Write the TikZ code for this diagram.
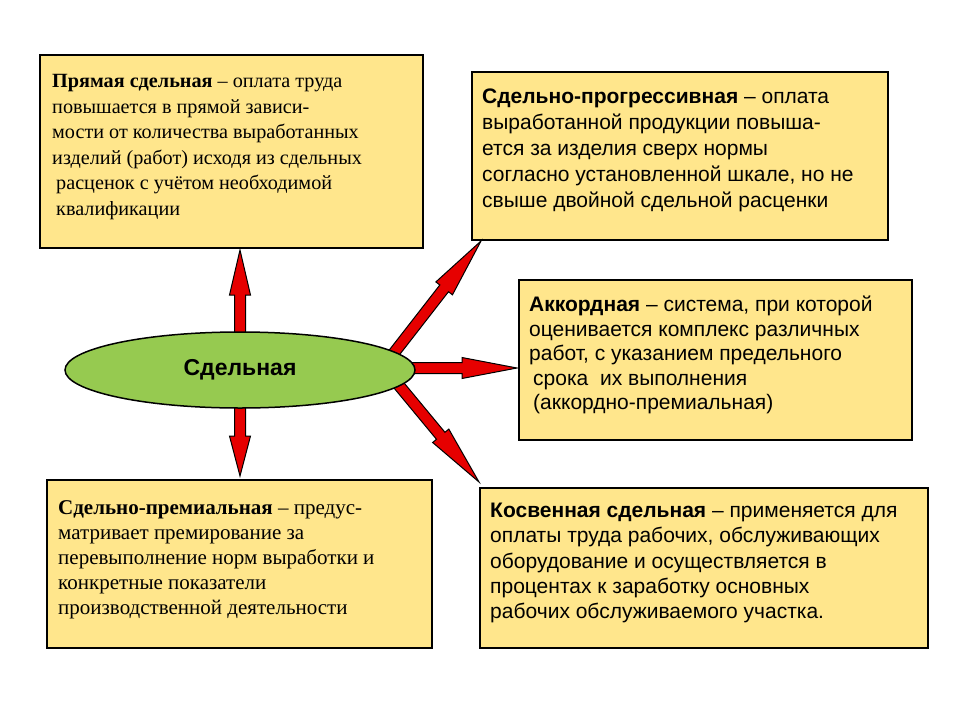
\documentclass[tikz,border=0pt]{standalone}
\usepackage{fontspec}
\setmainfont{Liberation Serif}
\setsansfont{Liberation Sans}
\usetikzlibrary{calc,shapes.geometric}
\definecolor{boxfill}{RGB}{255,230,140}
\definecolor{ellfill}{RGB}{150,202,80}
\definecolor{arr}{RGB}{230,0,0}
\tikzset{
  infobox/.style={draw=black, line width=1.5pt, fill=boxfill},
  boxtext/.style={anchor=north west, inner sep=0pt, align=left},
}
\newcommand{\blockarrow}[3]{%
  \path let \p1=($(#2)-(#1)$), \n1={atan2(\y1,\x1)}, \n2={veclen(\x1,\y1)} in
    [draw=black, line width=1pt, fill=arr, shift={(#1)}, rotate=\n1]
    (0pt,-5.5pt) -- ({\n2-#3},-5.5pt) -- ({\n2-#3},-10.5pt) -- (\n2,0pt)
    -- ({\n2-#3},10.5pt) -- ({\n2-#3},5.5pt) -- (0pt,5.5pt) -- cycle;}
\begin{document}
\begin{tikzpicture}[x=1pt,y=-1pt]
\useasboundingbox (0,0) rectangle (960,720);
\fill[white] (0,0) rectangle (960,720);
% boxes
\draw[infobox] (40,55) rectangle (423,248);
\draw[infobox] (472,72) rectangle (888,240);
\draw[infobox] (519,280) rectangle (912,440);
\draw[infobox] (47,480) rectangle (432,648);
\draw[infobox] (480,488) rectangle (928,648);
\node[boxtext, font=\rmfamily\fontsize{20.2}{25.6}\selectfont] (t1) at (52,74) {\textbf{Прямая сдельная} – оплата труда\\повышается в прямой зависи-\\мости от количества выработанных\\изделий (работ) исходя из сдельных\\\hspace{4pt}расценок с учётом необходимой\\\hspace{4pt}квалификации};
\node[boxtext, font=\sffamily\fontsize{21}{25.8}\selectfont] (t2) at (482,89) {\textbf{Сдельно-прогрессивная} – оплата\\выработанной продукции повыша-\\ется за изделия сверх нормы\\согласно установленной шкале, но не\\свыше двойной сдельной расценки};
\node[boxtext, font=\sffamily\fontsize{21}{24.5}\selectfont] (t3) at (529,296) {\textbf{Аккордная} – система, при которой\\оценивается комплекс различных\\работ, с указанием предельного\\\hspace{4pt}срока\ \ их выполнения\\\hspace{4pt}(аккордно-премиальная)};
\node[boxtext, font=\rmfamily\fontsize{21}{25}\selectfont] (t4) at (58,500) {\textbf{Сдельно-премиальная} – предус-\\матривает премирование за\\перевыполнение норм выработки и\\конкретные показатели\\производственной деятельности};
\node[boxtext, font=\sffamily\fontsize{21}{25.3}\selectfont] (t5) at (490,503) {\textbf{Косвенная сдельная} – применяется для\\оплаты труда рабочих, обслуживающих\\оборудование и осуществляется в\\процентах к заработку основных\\рабочих обслуживаемого участка.};
% arrow endpoints
\coordinate (u0) at (240,345); \coordinate (u1) at (240,250);
\coordinate (d0) at (240,395); \coordinate (d1) at (240,476);
\coordinate (ne0) at (390,358); \coordinate (ne1) at (481,241);
\coordinate (e0) at (400,368); \coordinate (e1) at (517,368);
\coordinate (se0) at (392,377); \coordinate (se1) at (479,482);
\blockarrow{u0}{u1}{45pt}
\blockarrow{d0}{d1}{40pt}
\blockarrow{ne0}{ne1}{60pt}
\blockarrow{e0}{e1}{55pt}
\blockarrow{se0}{se1}{60pt}
% ellipse
\node[draw=black, line width=1.5pt, fill=ellfill, ellipse, minimum width=350pt, minimum height=76pt, font=\sffamily\bfseries\fontsize{23}{26}\selectfont] (c) at (240,370) {Сдельная};
\end{tikzpicture}
\end{document}
